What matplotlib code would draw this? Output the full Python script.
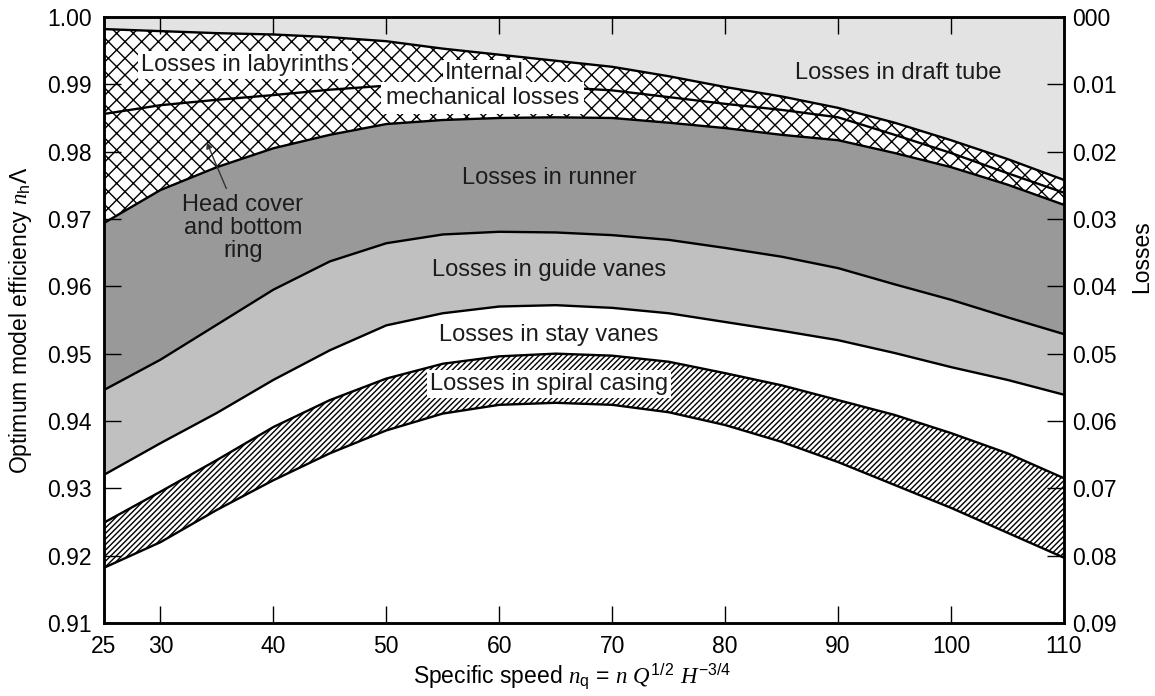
import numpy as np
import matplotlib.pyplot as plt

plt.rcParams['font.family'] = ['Liberation Sans', 'DejaVu Sans']
plt.rcParams['mathtext.fontset'] = 'custom'
plt.rcParams['mathtext.rm'] = 'Liberation Sans'
plt.rcParams['mathtext.it'] = 'Liberation Serif:italic'
plt.rcParams['mathtext.bf'] = 'Liberation Serif:italic:bold'
plt.rcParams['hatch.linewidth'] = 1.0
plt.rcParams['text.color'] = '#1c1c1c'

# specific speed grid
nq = [25, 30, 35, 40, 45, 50, 55, 60, 65, 70, 75, 80, 85, 90, 95, 100, 105, 110]

# efficiency after each loss component (top to bottom)
eta_draft = [0.9982, 0.9979, 0.9976, 0.9974, 0.9970, 0.9964, 0.9953, 0.9944, 0.9935,
             0.9926, 0.9912, 0.9896, 0.9882, 0.9865, 0.9843, 0.9817, 0.9789, 0.9758]
eta_mech = [0.9856, 0.9869, 0.9877, 0.9884, 0.9892, 0.9898, 0.9899, 0.9898, 0.9896,
            0.9891, 0.9881, 0.9871, 0.9862, 0.9851, 0.9825, 0.9798, 0.9768, 0.9739]
eta_runner = [0.9694, 0.9743, 0.9777, 0.9805, 0.9825, 0.9841, 0.9847, 0.9850, 0.9851,
              0.9850, 0.9843, 0.9835, 0.9825, 0.9817, 0.9798, 0.9777, 0.9751, 0.9721]
eta_guide = [0.9446, 0.9491, 0.9543, 0.9595, 0.9637, 0.9664, 0.9677, 0.9681, 0.9680,
             0.9676, 0.9669, 0.9657, 0.9644, 0.9627, 0.9603, 0.9580, 0.9554, 0.9529]
eta_stay = [0.9320, 0.9367, 0.9412, 0.9461, 0.9505, 0.9542, 0.9560, 0.9570, 0.9572,
            0.9568, 0.9560, 0.9547, 0.9534, 0.9520, 0.9501, 0.9480, 0.9461, 0.9439]
eta_spiral_top = [0.9249, 0.9295, 0.9342, 0.9391, 0.9431, 0.9463, 0.9485, 0.9496, 0.9500,
                  0.9497, 0.9488, 0.9471, 0.9453, 0.9431, 0.9409, 0.9382, 0.9352, 0.9315]
eta_spiral_bot = [0.9182, 0.9220, 0.9268, 0.9312, 0.9352, 0.9386, 0.9411, 0.9424, 0.9427,
                  0.9424, 0.9413, 0.9394, 0.9369, 0.9339, 0.9305, 0.9271, 0.9234, 0.9197]

x_ticks = [25, 30, 40, 50, 60, 70, 80, 90, 100, 110]
eff_ticks = [0.91, 0.92, 0.93, 0.94, 0.95, 0.96, 0.97, 0.98, 0.99, 1.00]
loss_ticks = [0.0, 0.01, 0.02, 0.03, 0.04, 0.05, 0.06, 0.07, 0.08, 0.09]
loss_labels = ['000', '0.01', '0.02', '0.03', '0.04', '0.05', '0.06', '0.07', '0.08', '0.09']

fs = 17
lw = 1.7

fig = plt.figure(figsize=(11.55, 6.96), dpi=100)
ax = fig.add_axes([0.0900, 0.1049, 0.8312, 0.8707])

ax.fill_between(nq, eta_draft, 1.0, facecolor='#e3e3e3', linewidth=0)
ax.fill_between(nq, eta_runner, eta_draft, facecolor='white', edgecolor='black',
                hatch='xx', linewidth=0)
ax.fill_between(nq, eta_guide, eta_runner, facecolor='#999999', linewidth=0)
ax.fill_between(nq, eta_stay, eta_guide, facecolor='#c0c0c0', linewidth=0)
ax.fill_between(nq, eta_spiral_bot, eta_spiral_top, facecolor='white', edgecolor='black',
                hatch='//////', linewidth=0)

for curve in [eta_draft, eta_mech, eta_runner, eta_guide, eta_stay,
              eta_spiral_top, eta_spiral_bot]:
    ax.plot(nq, curve, color='black', linewidth=lw, zorder=3,
            solid_joinstyle='round')

ax.set_xlim(25, 110)
ax.set_ylim(0.91, 1.00)
ax.set_xticks(x_ticks)
ax.set_yticks(eff_ticks)
ax.set_yticklabels(['%.2f' % v for v in eff_ticks])
ax.tick_params(axis='both', direction='in', length=12, width=1.0, labelsize=fs - 0.5)
ax.tick_params(axis='x', top=True, pad=9)
ax.tick_params(axis='y', pad=9)
for sp in ax.spines.values():
    sp.set_linewidth(1.8)
    sp.set_zorder(6)

ax2 = ax.twinx()
ax2.set_ylim(0.09, 0.0)
ax2.set_yticks(loss_ticks)
ax2.set_yticklabels(loss_labels)
ax2.tick_params(axis='y', direction='in', length=12, width=1.0, labelsize=fs - 0.5, pad=6)
ax2.set_ylabel('Losses', fontsize=fs - 0.5, va='center')
ax2.yaxis.set_label_coords(1.081, 0.604)
for sp in ax2.spines.values():
    sp.set_linewidth(1.8)

ax.set_ylabel(r'Optimum model efficiency $n_{\mathrm{h}}\Lambda$', fontsize=fs - 0.5,
              va='center')
ax.yaxis.set_label_coords(-0.087, 0.5)
ax.set_xlabel(r'Specific speed $n_{\mathrm{q}}$ = $n$ $Q^{1/2}$ $H^{-3/4}$', fontsize=fs - 0.5,
              va='center')
ax.xaxis.set_label_coords(0.4875, -0.089)

white_box = dict(boxstyle='square,pad=0.12', facecolor='white', edgecolor='none')

ax.text(37.5, 0.9929, 'Losses in labyrinths', fontsize=fs, ha='center', va='center',
        bbox=white_box, zorder=5)
ax.text(58.7, 0.99168, 'Internal', fontsize=fs, ha='center', va='center',
        bbox=dict(boxstyle='square,pad=0.1', facecolor='white', edgecolor='none'), zorder=5)
ax.text(58.5, 0.98797, 'mechanical losses', fontsize=fs, ha='center', va='center',
        bbox=dict(boxstyle='square,pad=0.2', facecolor='white', edgecolor='none'), zorder=5)
ax.text(95.3, 0.99168, 'Losses in draft tube', fontsize=fs, ha='center', va='center')
ax.text(64.4, 0.9761, 'Losses in runner', fontsize=fs, ha='center', va='center')
ax.text(64.4, 0.9624, 'Losses in guide vanes', fontsize=fs, ha='center', va='center')
ax.text(64.4, 0.9527, 'Losses in stay vanes', fontsize=fs, ha='center', va='center')
ax.text(64.4, 0.9455, 'Losses in spiral casing', fontsize=fs, ha='center', va='center',
        bbox=white_box, zorder=5)

ax.annotate('Head cover\nand bottom\nring', xy=(34.1, 0.9814), xytext=(37.3, 0.9687),
            fontsize=fs, ha='center', va='center', linespacing=1.05,
            arrowprops=dict(arrowstyle='-|>', color='#333333', lw=1.0,
                            mutation_scale=9, shrinkA=2, shrinkB=0))

fig.savefig('out.png', dpi=100)
